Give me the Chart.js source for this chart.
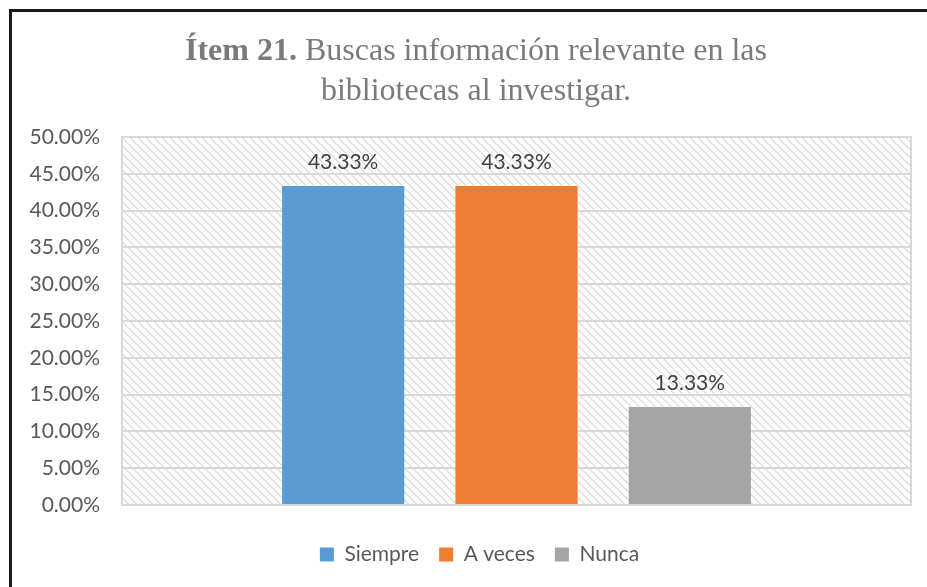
<!DOCTYPE html>
<html>
<head>
<meta charset="utf-8">
<script src="https://cdn.jsdelivr.net/npm/chart.js@4"></script>
<style>
  html, body { margin: 0; padding: 0; background: #fff; overflow: hidden; }
  #wrap { width: 927px; height: 587px; position: relative; }
  canvas { display: block; }
</style>
</head>
<body>
<div id="wrap"><canvas id="chart" width="927" height="587"></canvas></div>
<script>
// datos del gráfico
const categorias = [''];
const series = ['Siempre', 'A veces', 'Nunca'];
const valores = [0.4333, 0.4333, 0.1333];
const colores = ['#5B9BD5', '#ED7D31', '#A5A5A5'];
const tituloNegrita = 'Ítem 21.';
const tituloLinea1 = ' Buscas información relevante en las';
const tituloLinea2 = 'bibliotecas al investigar.';

// patrón rayado del fondo
const pat = document.createElement('canvas');
pat.width = 8; pat.height = 8;
const pctx = pat.getContext('2d');
pctx.fillStyle = '#fff';
pctx.fillRect(0, 0, 8, 8);
pctx.fillStyle = '#e0e0e0';
for (let i = 0; i < 8; i++) {
  pctx.fillRect(i, i, 1, 1);
  pctx.fillRect((i + 1) % 8, i, 1, 1);
}

const fondo = {
  id: 'fondo',
  afterLayout(chart) {
    // la leyenda va centrada bajo el título, no bajo el lienzo
    chart.legend.left = 48;
  },
  beforeDraw(chart) {
    const c = chart.ctx, a = chart.chartArea;
    c.save();
    c.fillStyle = c.createPattern(pat, 'repeat');
    c.fillRect(a.left, a.top, a.right - a.left, a.bottom - a.top);
    c.restore();
  },
  afterDraw(chart) {
    const c = chart.ctx, a = chart.chartArea;
    c.save();
    // borde del área de trazado
    c.strokeStyle = '#d9d9d9';
    c.lineWidth = 2;
    c.strokeRect(a.left, a.top, a.right - a.left, a.bottom - a.top);
    // marco negro (solo izquierda y arriba)
    c.fillStyle = '#1a1a1a';
    c.fillRect(9, 9, 3, 590);
    c.fillRect(9, 9, 930, 3);
    // título
    c.fillStyle = '#7a7a7a';
    c.textBaseline = 'alphabetic';
    c.font = 'bold 32px "Liberation Serif"';
    const wb = c.measureText(tituloNegrita).width;
    c.font = '32px "Liberation Serif"';
    const wr = c.measureText(tituloLinea1).width;
    let x = 476 - (wb + wr) / 2;
    c.font = 'bold 32px "Liberation Serif"';
    c.fillText(tituloNegrita, x, 60);
    c.font = '32px "Liberation Serif"';
    c.fillText(tituloLinea1, x + wb, 60);
    c.textAlign = 'center';
    c.fillText(tituloLinea2, 476, 100);
    // etiquetas de datos
    c.font = '21px Lato';
    c.fillStyle = '#404040';
    chart.data.datasets.forEach((ds, i) => {
      chart.getDatasetMeta(i).data.forEach((bar, j) => {
        c.fillText((ds.data[j] * 100).toFixed(2) + '%', bar.x, bar.y - 17);
      });
    });
    c.restore();
  }
};

new Chart(document.getElementById('chart'), {
  type: 'bar',
  data: {
    labels: categorias,
    datasets: series.map((s, i) => ({
      label: s,
      data: [valores[i]],
      backgroundColor: colores[i],
      categoryPercentage: 0.659,
      barPercentage: 0.705
    }))
  },
  options: {
    responsive: false,
    animation: false,
    layout: { padding: { top: 137, right: 16, bottom: 12, left: 0 } },
    plugins: {
      legend: {
        position: 'bottom',
        labels: {
          font: { family: 'Lato', size: 21 },
          color: '#595959',
          boxWidth: 14,
          boxHeight: 14,
          padding: 20
        }
      },
      title: { display: false },
      tooltip: { enabled: false }
    },
    scales: {
      x: {
        grid: { display: false },
        border: { display: false },
        ticks: { display: false },
        afterFit(s) { s.height = 19; }
      },
      y: {
        min: 0,
        max: 0.5,
        ticks: {
          stepSize: 0.05,
          font: { family: 'Lato', size: 21 },
          color: '#595959',
          padding: 22,
          callback: v => (v * 100).toFixed(2) + '%'
        },
        grid: { color: '#d9d9d9', lineWidth: 2, drawTicks: false },
        border: { display: false },
        afterFit(s) { s.width = 122; }
      }
    }
  },
  plugins: [fondo]
});
</script>
</body>
</html>
